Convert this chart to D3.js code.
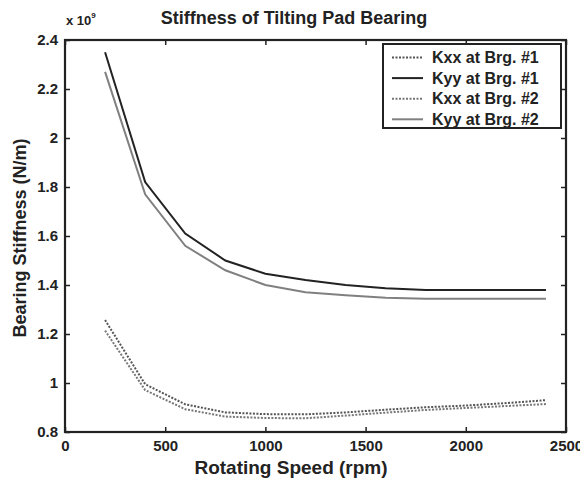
<!DOCTYPE html>
<html><head><meta charset="utf-8">
<script src="https://d3js.org/d3.v7.min.js"></script>
<style>
body{margin:0;background:#fff;}
text{font-family:"Liberation Sans",Arial,sans-serif;font-weight:bold;fill:#222;}
</style></head>
<body><svg id="c" width="580" height="480"></svg>
<script>
const speeds = [200,400,600,800,1000,1200,1400,1600,1800,2000,2200,2400];
const kxx1 = [1.257,0.995,0.913,0.880,0.873,0.872,0.880,0.891,0.901,0.908,0.918,0.930];
const kyy1 = [2.35,1.82,1.61,1.50,1.446,1.42,1.40,1.387,1.38,1.38,1.38,1.38];
const kxx2 = [1.214,0.971,0.893,0.863,0.857,0.856,0.867,0.879,0.890,0.898,0.906,0.914];
const kyy2 = [2.27,1.77,1.56,1.46,1.40,1.37,1.358,1.348,1.344,1.344,1.344,1.344];
const seriesNames = ["Kxx at Brg. #1","Kyy at Brg. #1","Kxx at Brg. #2","Kyy at Brg. #2"];
const xTicks = [0,500,1000,1500,2000,2500];
const yTicks = [0.8,1,1.2,1.4,1.6,1.8,2,2.2,2.4];

const series = [
  {name:seriesNames[0], vals:kxx1, color:"#555", dash:"2,1.5"},
  {name:seriesNames[1], vals:kyy1, color:"#222", dash:null},
  {name:seriesNames[2], vals:kxx2, color:"#777", dash:"2,1.5"},
  {name:seriesNames[3], vals:kyy2, color:"#808080", dash:null}
];

const svg = d3.select("#c");
const L=65,R=566,T=40,B=432;
const x = d3.scaleLinear().domain([0,2500]).range([L,R]);
const y = d3.scaleLinear().domain([0.8,2.4]).range([B,T]);

const g = svg.append("g");
const fmtY = d => d3.format("~g")(d);
g.append("g").attr("transform",`translate(0,${B})`)
  .call(d3.axisBottom(x).tickValues(xTicks).tickFormat(d3.format("d")).tickSizeInner(-5).tickSizeOuter(0).tickPadding(8))
  .call(a=>a.select(".domain").remove())
  .call(a=>a.selectAll("text").attr("font-size",15).attr("dy","0.71em"));
g.append("g").attr("transform",`translate(0,${T})`)
  .call(d3.axisTop(x).tickValues(xTicks).tickSizeInner(-5).tickSizeOuter(0).tickFormat(""))
  .call(a=>a.select(".domain").remove());
g.append("g").attr("transform",`translate(${L},0)`)
  .call(d3.axisLeft(y).tickValues(yTicks).tickFormat(fmtY).tickSizeInner(-5).tickSizeOuter(0).tickPadding(7))
  .call(a=>a.select(".domain").remove())
  .call(a=>a.selectAll("text").attr("font-size",15));
g.append("g").attr("transform",`translate(${R},0)`)
  .call(d3.axisRight(y).tickValues(yTicks).tickSizeInner(-5).tickSizeOuter(0).tickFormat(""))
  .call(a=>a.select(".domain").remove());
svg.selectAll(".tick line").attr("stroke","#222").attr("stroke-width",1.5);
svg.selectAll(".tick text").style("fill","#222");
svg.append("rect").attr("x",L).attr("y",T).attr("width",R-L).attr("height",B-T)
  .attr("fill","none").attr("stroke","#222").attr("stroke-width",2.2);

const line = d3.line().x((d,i)=>x(speeds[i])).y(d=>y(d));
series.forEach(s=>{
  svg.append("path").datum(s.vals).attr("d",line).attr("fill","none")
    .attr("stroke",s.color).attr("stroke-width",2)
    .attr("stroke-dasharray",s.dash);
});

const lg = svg.append("g");
lg.append("rect").attr("x",383).attr("y",44).attr("width",178).attr("height",84)
  .attr("fill","#fff").attr("stroke","#222").attr("stroke-width",2);
series.forEach((s,i)=>{
  const yy = 57.5 + i*20.6;
  lg.append("line").attr("x1",392).attr("x2",423).attr("y1",yy).attr("y2",yy)
    .attr("stroke",s.color).attr("stroke-width",2).attr("stroke-dasharray",s.dash);
  lg.append("text").attr("x",432).attr("y",yy).attr("dy","0.36em")
    .attr("font-size",16).text(s.name);
});

svg.append("text").attr("x",294).attr("y",24).attr("text-anchor","middle")
  .attr("font-size",18).text("Stiffness of Tilting Pad Bearing");
const ex = svg.append("text").attr("x",66).attr("y",25).attr("font-size",13);
ex.append("tspan").text("x 10");
ex.append("tspan").attr("font-size",8).attr("dy",-7).text("9");
svg.append("text").attr("x",291).attr("y",474).attr("text-anchor","middle")
  .attr("font-size",19).text("Rotating Speed (rpm)");
svg.append("text").attr("transform","translate(26,238) rotate(-90)").attr("text-anchor","middle")
  .attr("font-size",18).text("Bearing Stiffness (N/m)");
</script></body></html>
